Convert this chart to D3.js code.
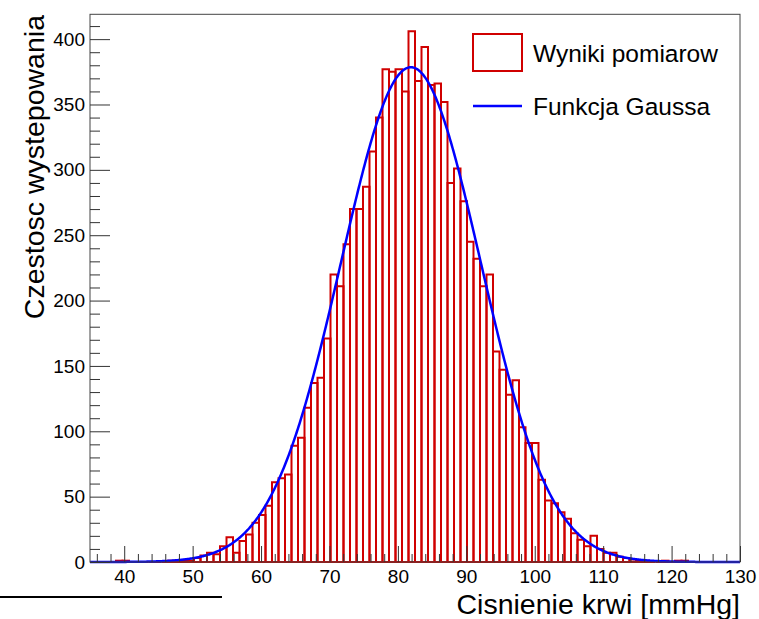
<!DOCTYPE html>
<html><head><meta charset="utf-8">
<script src="https://cdn.jsdelivr.net/npm/d3@7"></script>
<style>
body{margin:0;background:#fff}
svg{display:block}
text{font-family:"Liberation Sans", Arial, Helvetica, sans-serif}
</style>
</head><body>
<script>
// ---- data ----
const xRange = [35, 130];
const nBins = 100;
const binCounts = [
  0,0,0,0,1,1,0,0,0,0,
  0,0,1,1,1,1,3,5,7,6,
  12,19,7,16,21,30,36,43,61,64,
  67,89,95,118,137,141,171,220,211,243,
  270,270,287,314,340,377,375,377,360,406,
  368,394,365,366,352,290,301,276,245,232,
  211,220,161,147,128,139,103,91,91,63,
  47,45,38,33,22,17,12,20,10,7,
  7,4,3,2,1,1,0,0,1,0,
  1,1,0,0,0,0,0,0,0,0
];
const gaussAmp = 378.5, gaussMean = 81.9, gaussSigma = 10.2;
const xMajorTicks = [40,50,60,70,80,90,100,110,120,130];
const xMinorTicks = [36,38,42,44,46,48,52,54,56,58,62,64,66,68,72,74,76,78,82,84,86,88,92,94,96,98,102,104,106,108,112,114,116,118,122,124,126,128];
const yMajorTicks = [0,50,100,150,200,250,300,350,400];
const yMinorTicks = [10,20,30,40,60,70,80,90,110,120,130,140,160,170,180,190,210,220,230,240,260,270,280,290,310,320,330,340,360,370,380,390,410];
const yMax = 419;
const xTitle = "Cisnienie krwi [mmHg]";
const yTitle = "Czestosc wystepowania";
const legendLabels = ["Wyniki pomiarow", "Funkcja Gaussa"];

// ---- layout ----
const W = 759, H = 619;
const frame = {l: 90, r: 740, t: 14.3, b: 562};
const red = "#d00000", blue = "#0000ff";

const svg = d3.select("body").append("svg").attr("width", W).attr("height", H);
const x = d3.scaleLinear().domain(xRange).range([frame.l, frame.r]);
const y = d3.scaleLinear().domain([0, yMax]).range([frame.b, frame.t]);
const binW = (xRange[1] - xRange[0]) / nBins;

// bars
svg.append("g").selectAll("path").data(binCounts).join("path")
  .attr("d", (c, i) => {
    const x0 = x(xRange[0] + i * binW), x1 = x(xRange[0] + (i + 1) * binW);
    return `M${x0},${y(0)}V${y(c)}H${x1}V${y(0)}Z`;
  })
  .attr("fill", "none").attr("stroke", red).attr("stroke-width", 2);

// gaussian curve
const curvePts = d3.range(0, 951).map(k => {
  const xv = xRange[0] + k * (xRange[1] - xRange[0]) / 950;
  return [xv, gaussAmp * Math.exp(-0.5 * Math.pow((xv - gaussMean) / gaussSigma, 2))];
});
svg.append("path").datum(curvePts)
  .attr("d", d3.line().x(d => x(d[0])).y(d => y(d[1])))
  .attr("fill", "none").attr("stroke", blue).attr("stroke-width", 2.5);

// frame
svg.append("rect").attr("x", frame.l).attr("y", frame.t)
  .attr("width", frame.r - frame.l).attr("height", frame.b - frame.t)
  .attr("fill", "none").attr("stroke", "#444").attr("stroke-width", 1);

// axes
function styleAxis(g) {
  g.select(".domain").remove();
  g.selectAll(".tick line").attr("stroke", "#333");
  g.selectAll(".tick text").attr("fill", "#000").attr("font-size", 19)
    .attr("font-family", '"Liberation Sans", Arial, sans-serif');
}
svg.append("g").attr("transform", `translate(0,${frame.b})`)
  .call(d3.axisBottom(x).tickValues(xMajorTicks).tickSize(-16).tickPadding(8).tickFormat(d3.format("d")))
  .call(styleAxis);
svg.append("g").attr("transform", `translate(0,${frame.b})`)
  .call(d3.axisBottom(x).tickValues(xMinorTicks).tickSize(-8).tickFormat(""))
  .call(styleAxis);
svg.append("g").attr("transform", `translate(${frame.l},0)`)
  .call(d3.axisLeft(y).tickValues(yMajorTicks).tickSize(-20).tickPadding(5).tickFormat(d3.format("d")))
  .call(styleAxis);
svg.append("g").attr("transform", `translate(${frame.l},0)`)
  .call(d3.axisLeft(y).tickValues(yMinorTicks).tickSize(-10).tickFormat(""))
  .call(styleAxis);

// axis titles
svg.append("text").attr("x", 740).attr("y", 614).attr("text-anchor", "end")
  .attr("font-size", 28.5).attr("fill", "#000").text(xTitle);
svg.append("text").attr("transform", "translate(43.5,15) rotate(-90)")
  .attr("text-anchor", "end").attr("font-size", 28.5).attr("fill", "#000").text(yTitle);

// legend
const lg = svg.append("g");
lg.append("rect").attr("x", 473).attr("y", 34).attr("width", 49).attr("height", 37)
  .attr("fill", "none").attr("stroke", red).attr("stroke-width", 2);
lg.append("line").attr("x1", 473).attr("x2", 522).attr("y1", 106).attr("y2", 106)
  .attr("stroke", blue).attr("stroke-width", 2.5);
lg.selectAll("text.lab").data(legendLabels).join("text").attr("class", "lab")
  .attr("x", 533).attr("y", (d, i) => [53, 106][i] + 8.5)
  .attr("font-size", 24.5).attr("fill", "#000").text(d => d);

// stray line at bottom-left
svg.append("line").attr("x1", 0).attr("x2", 222).attr("y1", 597).attr("y2", 597)
  .attr("stroke", "#000").attr("stroke-width", 2);
</script>
</body></html>
